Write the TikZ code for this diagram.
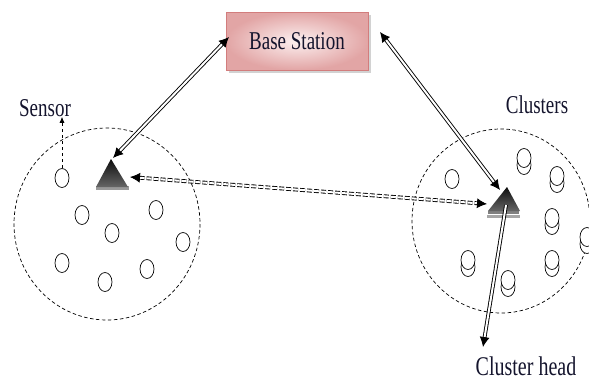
\documentclass[tikz,border=0pt]{standalone}
\usepackage{fontspec}
\usepackage{graphicx}
\setmainfont{Liberation Serif}
\usetikzlibrary{arrows.meta,shadows,shapes.geometric}
\definecolor{bsin}{RGB}{252,240,240}
\definecolor{bsout}{RGB}{226,165,165}
\definecolor{bsline}{RGB}{210,125,125}
\definecolor{txtc}{RGB}{20,20,45}
\newcommand\lbl[2]{\scalebox{1}[1.35]{\fontsize{#1}{#1}\selectfont #2}}
\tikzset{
  zone/.style={draw, dashed, dash pattern=on 3.5pt off 2.5pt, line width=0.7pt},
  sens/.style={ellipse, draw, line width=0.7pt, fill=white, minimum width=14pt, minimum height=19pt, inner sep=0pt},
  link/.style={draw=black, line width=0.9pt, double=white, double distance=2pt},
  dlink/.style={link, dash pattern=on 5pt off 2pt},
  tipboth/.style={{Latex[length=10pt,width=10pt]}-{Latex[length=10pt,width=10pt]}},
  tipend/.style={-{Latex[length=10pt,width=10pt]}},
  label/.style={text=txtc, inner sep=0pt}
}
\begin{document}
\begin{tikzpicture}[x=1pt,y=-1pt]
\useasboundingbox (0,0) rectangle (589,380);
% zones
\draw[zone] (107,224) ellipse [x radius=93, y radius=96];
\draw[zone] (501,221) ellipse [x radius=89, y radius=92];
% base station
\node[draw=bsline, line width=0.6pt, inner color=bsin, outer color=bsout,
      minimum width=142pt, minimum height=58pt,
      drop shadow={shadow xshift=3pt, shadow yshift=-3pt, fill=black!35}] (bs) at (297,41)
      {\textcolor{txtc}{\lbl{19}{Base Station}}};
% left sensors
\foreach \n/\x/\y in {a/62/178, b/82/215, c/156/210, d/112/233, e/183/242, f/62/263, g/147/269, h/105/282}
  \node[sens] (L\n) at (\x,\y) {};
% right single sensor
\node[sens] (Ra) at (452,179) {};
% right stacked sensors
\foreach \n/\x/\y in {b/524/158, c/557/176, d/552/218, e/587/237, f/468/260, g/552/260, h/508/280}{
  \node[sens] (R\n2) at (\x,\y+7) {};
  \node[sens] (R\n) at (\x,\y) {};
}
% left cluster head triangle
\fill[black!40] (96,186) rectangle (129,190);
\shade[top color=black!95, bottom color=black!60] (111,159) -- (128,187) -- (96,187) -- cycle;
\coordinate (chL) at (113,158);
\coordinate (chLr) at (130,177);
% right cluster head triangle
\fill[black!35] (487,215) rectangle (520,218);
\fill[black!50] (488,211) rectangle (519,214);
\shade[top color=black!95, bottom color=black!60] (507,187) -- (520,211) -- (488,211) -- cycle;
\coordinate (chR) at (500,190);
\coordinate (chRl) at (487,204);
\coordinate (chRc) at (506,205);
% base station connection points
\coordinate (bsL) at (229,37);
\coordinate (bsR) at (380,32);
% labels
\node[label] (sensor) at (45,108) {\lbl{19}{Sensor}};
\node[label] (clusters) at (537,105) {\lbl{19}{Clusters}};
\node[label] (chlabel) at (526,366) {\lbl{20}{Cluster head}};
\coordinate (chtip) at (483,347);
% connectors
\draw[link, tipboth] (bsL) -- (chL);
\draw[link, tipboth] (bsR) -- (chR);
\draw[dlink, tipboth] (chLr) -- (chRl);
\draw[link, tipend] (chRc) -- (chtip);
\draw[dashed, line width=0.7pt, -{Latex[length=6pt,width=5pt]}] (La.north) -- (sensor.south -| La.north);
\end{tikzpicture}
\end{document}
